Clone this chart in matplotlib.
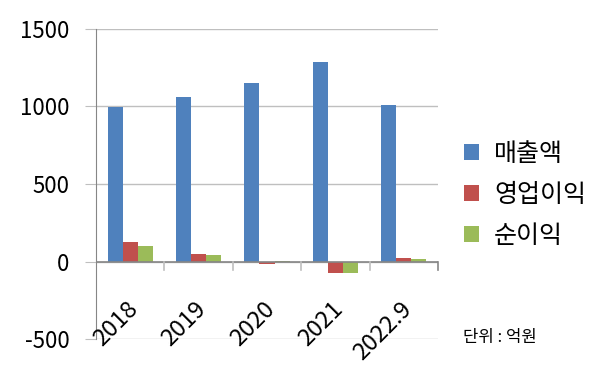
import matplotlib.pyplot as plt
import numpy as np

plt.rcParams['font.family'] = ['Noto Sans CJK KR', 'DejaVu Sans']
plt.rcParams['axes.unicode_minus'] = False

# 단위: 억원
years = ['2018', '2019', '2020', '2021', '2022.9']
sales = [995, 1062, 1152, 1285, 1008]
op_profit = [124, 51, -18, -73, 26]
net_profit = [103, 45, 3, -77, 17]

series_names = ['매출액', '영업이익', '순이익']
colors = ['#4F81BD', '#C0504D', '#9BBB59']

fig = plt.figure(figsize=(6, 3.81), dpi=100)
ax = fig.add_axes([0.16, 0.11, 0.57, 0.814])

x = np.arange(1, len(years) + 1)
w = 0.22
for i, (vals, name, c) in enumerate(zip([sales, op_profit, net_profit], series_names, colors)):
    ax.bar(x + (i - 1) * w, vals, width=w, color=c, label=name, zorder=3)

ax.set_xlim(0.5, len(years) + 0.5)
ax.set_ylim(-500, 1500)
ax.set_yticks([-500, 0, 500, 1000, 1500])
ax.yaxis.grid(True, color='#BFBFBF', linewidth=1, zorder=0)
ax.axhline(0, color='#868686', linewidth=1.2, zorder=4)

for s in ['top', 'right', 'bottom']:
    ax.spines[s].set_visible(False)
ax.spines['left'].set_color('#868686')
ax.tick_params(axis='y', length=8, color='#BFBFBF', labelsize=16, pad=11)

# category boundary ticks hanging under the zero line
ax.set_xticks([])
for b in np.arange(1.5, len(years) + 0.6, 1.0):
    ax.plot([b, b], [0, -55], color='#BFBFBF' if b < len(years) else '#868686',
            linewidth=1.2, zorder=4, clip_on=False)

for xi, lab in zip(x, years):
    ax.text(xi + 0.06, -285, lab, rotation=45, ha='right', va='center',
            rotation_mode='anchor', fontsize=17)

ax.legend(loc='center left', bbox_to_anchor=(1.01, 0.465), frameon=False,
          fontsize=18, handlelength=0.6, handleheight=0.6, labelspacing=0.6,
          handletextpad=0.6)

fig.text(0.772, 0.102, '단위 : 억원', fontsize=12)

fig.savefig('out.png', dpi=100)
